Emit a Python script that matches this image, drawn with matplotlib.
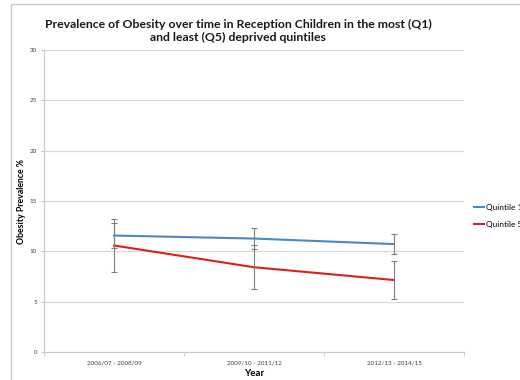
import matplotlib.pyplot as plt
from matplotlib.patches import Rectangle

# prevalence (%) by three-year period, with 95% CI half-widths
periods = ['2006/07 - 2008/09', '2009/10 - 2011/12', '2012/13 - 2014/15']
q1 = [11.57, 11.27, 10.72]
q1_err = [1.2, 1.05, 0.96]
q5 = [10.58, 8.42, 7.15]
q5_err = [2.62, 2.18, 1.93]
yticks = [0, 5, 10, 15, 20, 25, 30]

W, H = 520, 380
fig = plt.figure(figsize=(W / 100, H / 100), dpi=100)
plt.rcParams['font.family'] = ['Lato', 'DejaVu Sans']

# chart area border
fig.patches.append(Rectangle((11 / W, -0.1), 1.2, 1.1 - 4 / H,
                             transform=fig.transFigure, fill=False,
                             edgecolor='#c8c8c8', lw=1.0))

ax = fig.add_axes([44 / W, 1 - 352 / H, (464 - 44) / W, (352 - 50) / H])
x = range(len(periods))

ax.plot(x, q1, color='#4f86c6', lw=1.5, label='Quintile 1', zorder=3)
ax.plot(x, q5, color='#d9211b', lw=1.5, label='Quintile 5', zorder=3)
ax.errorbar(x, q1, yerr=q1_err, fmt='none', ecolor='#7f7f7f', elinewidth=0.8,
            capsize=2.5, capthick=0.8, zorder=4)
ax.errorbar(x, q5, yerr=q5_err, fmt='none', ecolor='#7f7f7f', elinewidth=0.8,
            capsize=2.5, capthick=0.8, zorder=4)

ax.set_xlim(-0.5, 2.5)
ax.set_ylim(0, 30)
ax.set_yticks(yticks)
ax.set_xticks(list(x))
ax.set_xticklabels(periods)
ax.set_xticks([-0.5, 0.5, 1.5, 2.5], minor=True)
ax.tick_params(axis='x', which='major', length=0, labelsize=4.5, colors='#404040', pad=6)
ax.tick_params(axis='x', which='minor', length=3, color='#c8c8c8', direction='out')
ax.tick_params(axis='y', length=2, width=0.8, color='#c8c8c8', labelcolor='#404040',
               labelsize=4.5, pad=3)
ax.grid(axis='y', color='#d9d9d9', lw=0.9)
ax.set_axisbelow(True)
for s in ['right', 'top']:
    ax.spines[s].set_visible(False)
ax.spines['bottom'].set_color('#c8c8c8')
ax.spines['left'].set_color('#c8c8c8')

ax.set_ylabel('Obesity Prevalence %', fontsize=6.3, fontweight='bold', labelpad=3)
ax.set_xlabel('Year', fontsize=7, fontweight='bold', labelpad=3)

fig.text(238 / W, 1 - 31 / H,
         'Prevalence of Obesity over time in Reception Children in the most (Q1)\n'
         'and least (Q5) deprived quintiles',
         ha='center', va='center', fontsize=8.8, fontweight='bold',
         color='#1a1a1a', linespacing=1.3)

ax.legend(loc='upper left', bbox_to_anchor=(474 / W, 1 - 204 / H),
          bbox_transform=fig.transFigure, frameon=False, fontsize=6,
          handlelength=1.25, handletextpad=0.15, labelspacing=1.15,
          borderaxespad=0, borderpad=0)

fig.savefig('out.png', dpi=100)
